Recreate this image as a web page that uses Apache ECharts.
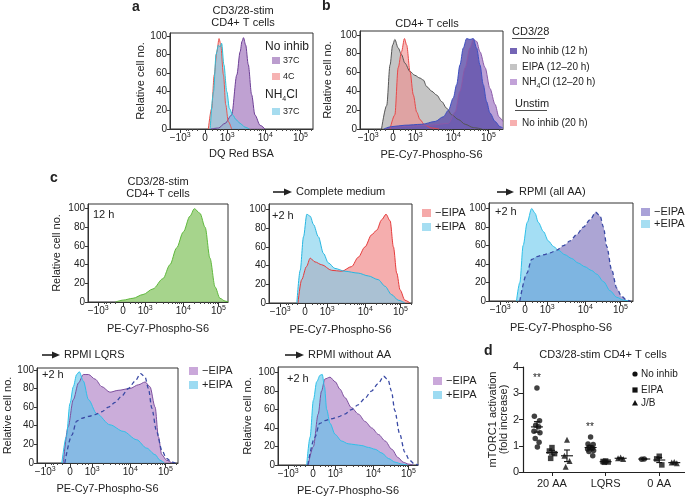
<!DOCTYPE html>
<html><head><meta charset="utf-8">
<script src="https://cdn.jsdelivr.net/npm/echarts@6/dist/echarts.min.js"></script>
<style>html,body{margin:0;padding:0;background:#fff}#c{width:685px;height:499px}</style>
</head><body><div id="c"></div>
<script>
// ---------- DATA (x in display units of the biexponential axis, y = relative cell no.) ----------
const X_TICK_VALUES = [-0.67, 0, 0.6, 1.63, 2.58];
const X_TICK_LABELS = ['−10{s|3}', '0', '10{s|3}', '10{s|4}', '10{s|5}'];
const Y_TICKS = [0, 20, 40, 60, 80, 100];

// panel a : DQ Red BSA
const a_noInhib37 = [[0.15,0],[0.36,1],[0.54,6],[0.72,15],[0.86,58],[0.95,83],[1.0,94],[1.04,98],[1.1,90],[1.17,69],[1.26,37],[1.35,15],[1.49,4],[1.62,0]];
const a_noInhib4 = [[0.09,0],[0.18,22],[0.25,58],[0.32,83],[0.38,97],[0.42,92],[0.5,58],[0.56,26],[0.63,8],[0.72,0]];
const a_nh4cl37 = [[0.14,0],[0.23,40],[0.3,80],[0.36,90],[0.41,88],[0.45,92],[0.51,69],[0.59,40],[0.66,22],[0.75,15],[0.84,10],[0.95,6],[1.08,2],[1.2,0]];

// panel b : PE-Cy7-Phospho-S6
const b_eipa = [[-0.31,0],[-0.17,25],[-0.08,68],[-0.01,89],[0.05,95],[0.14,86],[0.23,79],[0.32,70],[0.46,61],[0.59,57],[0.73,54],[0.82,52],[0.91,45],[1.05,40],[1.18,36],[1.32,29],[1.45,22],[1.59,15],[1.77,10],[1.95,5],[2.17,1.5],[2.4,0]];
const b_unstim = [[-0.08,0],[0.05,15],[0.14,65],[0.23,82],[0.31,96],[0.37,89],[0.46,61],[0.55,36],[0.64,18],[0.73,10],[0.86,4],[1.05,1],[1.25,0]];
const b_nh4cl = [[-0.2,0],[-0.05,2],[0.5,3],[1.0,4],[1.5,6],[1.68,18],[1.81,40],[1.95,65],[2.08,86],[2.17,95],[2.26,93],[2.35,82],[2.49,65],[2.62,43],[2.76,26],[2.86,13],[2.94,10],[2.97,8]];
const b_noInhib12 = [[-0.25,0],[-0.04,2.5],[0.32,4],[0.78,5],[1.14,8],[1.36,13],[1.5,20],[1.63,33],[1.72,47],[1.81,68],[1.9,86],[1.99,96],[2.08,95],[2.17,96],[2.26,86],[2.35,68],[2.44,47],[2.53,29],[2.62,17],[2.76,8],[2.89,2.5],[2.97,1]];

// panel c, 12 h
const c1_12h = [[-0.2,0],[0,2],[0.27,4],[0.54,8],[0.81,14],[1.08,25],[1.27,40],[1.45,58],[1.63,75],[1.81,92],[1.93,100],[2.08,95],[2.22,80],[2.35,47],[2.49,16],[2.62,4],[2.76,1],[2.85,0]];
// complete medium +2 h
const c2_minusEIPA = [[-0.19,0],[-0.09,25],[0.04,39],[0.14,48],[0.27,44],[0.45,41],[0.72,35],[0.99,34],[1.26,39],[1.44,49],[1.62,60],[1.8,73],[1.94,78],[2.07,89],[2.19,95],[2.3,88],[2.39,60],[2.48,32],[2.57,14],[2.7,3],[2.84,0]];
const c2_plusEIPA = [[-0.22,0],[-0.13,35],[-0.04,71],[0.05,95],[0.14,93],[0.23,84],[0.36,71],[0.5,53],[0.63,43],[0.81,37],[1.08,34],[1.44,32],[1.71,29],[1.98,25],[2.16,18],[2.34,9],[2.52,3],[2.7,0]];
// RPMI (all AA) +2 h
const c3_minusEIPA = [[-0.14,0],[0.05,30],[0.18,45],[0.32,48],[0.5,50],[0.68,52],[0.86,55],[1.04,60],[1.22,65],[1.4,72],[1.58,80],[1.76,88],[1.91,96],[2.03,92],[2.12,80],[2.21,59],[2.34,34],[2.48,14],[2.61,5],[2.75,1],[2.85,0]];
const c3_plusEIPA = [[-0.23,0],[-0.14,20],[-0.05,60],[0.06,85],[0.18,100],[0.27,95],[0.36,85],[0.5,75],[0.63,65],[0.77,59],[0.9,55],[1.08,50],[1.26,46],[1.44,41],[1.62,37],[1.8,33],[1.94,29],[2.12,21],[2.3,11],[2.48,4],[2.66,1],[2.8,0]];
// RPMI LQRS +2 h
const c4_minusEIPA = [[-0.18,0],[-0.05,39],[0.09,68],[0.23,86],[0.36,95],[0.5,95],[0.68,90],[0.86,82],[1.08,76],[1.3,78],[1.62,80],[1.85,84],[2.03,87],[2.16,82],[2.3,60],[2.39,28],[2.48,9],[2.61,3],[2.75,0]];
const c4_plusEIPA = [[-0.22,0],[-0.1,28],[0,64],[0.09,82],[0.18,95],[0.25,98],[0.36,88],[0.5,68],[0.72,53],[1.08,41],[1.44,34],[1.8,25],[2.07,16],[2.3,9],[2.43,3],[2.55,0]];
// RPMI without AA +2 h
const c5_minusEIPA = [[-0.13,0],[0.01,20],[0.14,55],[0.23,80],[0.32,93],[0.46,95],[0.6,90],[0.73,82],[0.86,73],[1.04,62],[1.23,55],[1.41,47],[1.59,40],[1.77,33],[1.95,26],[2.13,17],[2.3,8],[2.44,3],[2.58,1],[2.7,0]];
const c5_plusEIPA = [[-0.17,0],[-0.08,30],[0.01,70],[0.1,90],[0.19,97],[0.25,98],[0.31,85],[0.37,60],[0.46,45],[0.6,33],[0.77,26],[0.95,23],[1.14,22],[1.32,21],[1.5,19],[1.68,17],[1.86,13],[2.04,7],[2.22,3],[2.4,1],[2.55,0]];

// panel d : mTORC1 activation (fold increase)
const D_CATS = ['20 AA', 'LQRS', '0 AA'];
const d_noInhib = [[3.2,2.12,1.95,1.78,1.72,1.55,1.5,1.28,1.13,0.95],[1.33,1.07,1.05,0.95,0.9,0.88,0.82,0.78,0.62],[0.5,0.49]];
const d_eipa = [[0.93,0.8,0.7,0.52],[0.42,0.4,0.38,0.37],[0.6,0.5,0.27]];
const d_jb = [[1.23,0.62,0.42,0.2],[0.55,0.52,0.5],[0.38,0.36,0.33]];

// ---------- LAYOUT ----------
const FF = '"Liberation Sans", Arial, Helvetica, sans-serif';
const INK = '#222';
const PX_PER_UNIT = 37;
const PANELS = [
  {key:'a',  left:170, top:33,  w:143, h:96, zero:205, ymax:103, xname:'DQ Red BSA',        yname:true,  yGap:24, xGap:19},
  {key:'b',  left:360, top:31,  w:143, h:98, zero:393, ymax:104, xname:'PE-Cy7-Phospho-S6', yname:true,  yGap:27, xGap:20},
  {key:'c1', left:88,  top:204, w:140, h:98, zero:123, ymax:105, xname:'PE-Cy7-Phospho-S6', yname:true,  yGap:26, xGap:21},
  {key:'c2', left:269, top:204, w:143, h:99, zero:305, ymax:106, xname:'PE-Cy7-Phospho-S6', yname:false, yGap:26, xGap:21},
  {key:'c3', left:489, top:203, w:144, h:98, zero:525, ymax:106, xname:'PE-Cy7-Phospho-S6', yname:false, yGap:26, xGap:21},
  {key:'c4', left:37,  top:368, w:141, h:95, zero:70,  ymax:102, xname:'PE-Cy7-Phospho-S6', yname:true,  yGap:23, xGap:20},
  {key:'c5', left:278, top:367, w:140, h:98, zero:313, ymax:106, xname:'PE-Cy7-Phospho-S6', yname:true,  yGap:25, xGap:20}
];
// minor (log) tick positions inside each decade, in axis display units
const DECADES = [[0.6, 1.03], [1.63, 0.95], [2.58, 0.95]];
const X_MINOR = [];
DECADES.forEach(([u0, len]) => { for (let k = 2; k <= 9; k++) X_MINOR.push(u0 + Math.log10(k) * len); });
[-0.2, -0.35, -0.45, -0.52, 0.2, 0.33, 0.42, 0.49].forEach(v => X_MINOR.push(v));

const SUP_RICH = {s:{fontSize:7, lineHeight:8, verticalAlign:'top', fontFamily:FF, color:INK}};
function xLab(v){
  let best = 0, bd = 1e9;
  X_TICK_VALUES.forEach((t,i)=>{ const d = Math.abs(t-v); if(d<bd){bd=d;best=i;} });
  return X_TICK_LABELS[best];
}

const grids = [], xAxes = [], yAxes = [], series = [];
PANELS.forEach((p, gi) => {
  const xmin = (p.left-p.zero)/PX_PER_UNIT, xmax = (p.left+p.w-p.zero)/PX_PER_UNIT;
  grids.push({left:p.left, top:p.top, width:p.w, height:p.h, show:true, borderColor:'#333', borderWidth:1, backgroundColor:'rgba(0,0,0,0)'});
  xAxes.push({gridIndex:gi, type:'value', min:xmin, max:xmax,
    splitLine:{show:false},
    axisLine:{show:true, onZero:false, lineStyle:{color:'#333', width:1}},
    axisTick:{show:true, customValues:X_TICK_VALUES, length:4, lineStyle:{color:'#333'}},
    axisLabel:{show:true, customValues:X_TICK_VALUES, formatter:xLab, fontSize:10, lineHeight:13, color:INK, fontFamily:FF, margin:3, rich:SUP_RICH},
    name:p.xname, nameLocation:'middle', nameGap:p.xGap, nameTextStyle:{fontSize:11, color:INK, fontFamily:FF}});
  yAxes.push({gridIndex:gi, type:'value', min:0, max:p.ymax,
    splitLine:{show:false},
    axisLine:{show:true, onZero:false, lineStyle:{color:'#333', width:1}},
    axisTick:{show:true, customValues:Y_TICKS, length:3, lineStyle:{color:'#333'}},
    axisLabel:{show:true, customValues:Y_TICKS, fontSize:10, color:INK, fontFamily:FF, margin:3},
    name:p.yname ? 'Relative cell no.' : '', nameLocation:'middle', nameGap:p.yGap, nameTextStyle:{fontSize:11, color:INK, fontFamily:FF}});
});
// second x axes (same grids) carrying only the short minor ticks
PANELS.forEach((p, gi) => {
  xAxes.push({gridIndex:gi, type:'value', position:'bottom', min:(p.left-p.zero)/PX_PER_UNIT, max:(p.left+p.w-p.zero)/PX_PER_UNIT,
    splitLine:{show:false}, axisLine:{show:false, onZero:false},
    axisTick:{show:true, customValues:X_MINOR.filter(v => v > (p.left-p.zero)/PX_PER_UNIT && v < (p.left+p.w-p.zero)/PX_PER_UNIT), length:2, lineStyle:{color:'#444'}},
    axisLabel:{show:false}});
});

function hist(gi, data, fill, edge, extra){
  return Object.assign({type:'line', xAxisIndex:gi, yAxisIndex:gi, data:data, symbol:'none', showSymbol:false,
    smooth:0.3, smoothMonotone:'x', animation:false, silent:true,
    lineStyle:{color:edge, width:1}, areaStyle:{color:fill, opacity:1}}, extra||{});
}
function dashed(gi, data){
  return {type:'line', xAxisIndex:gi, yAxisIndex:gi, data:data, symbol:'none', showSymbol:false, smooth:0.3, smoothMonotone:'x',
    animation:false, silent:true, z:5, lineStyle:{color:'#3a4aa5', width:1.3, type:[4,3]}};
}
const PURPLE_A='rgba(170,130,195,0.75)', PINK='rgba(242,150,150,0.62)', CYAN='rgba(110,200,232,0.58)';
// a
series.push(hist(0, a_noInhib37, PURPLE_A, '#6d3f96'));
series.push(hist(0, a_noInhib4, PINK, '#e8544f'));
series.push(hist(0, a_nh4cl37, CYAN, '#2dbfd6'));
// b
series.push(hist(1, b_eipa, 'rgba(170,170,170,0.68)', '#555'));
series.push(hist(1, b_unstim, 'rgba(240,140,140,0.6)', '#e84848'));
series.push(hist(1, b_nh4cl, 'rgba(175,140,205,0.82)', '#8a5aa8'));
series.push(hist(1, b_noInhib12, 'rgba(95,80,170,0.82)', '#3c4fc0'));
// c1
series.push(hist(2, c1_12h, 'rgba(150,205,120,0.85)', '#5fb83d'));
// c2
series.push(hist(3, c2_minusEIPA, 'rgba(240,130,130,0.65)', '#e53a3a'));
series.push(hist(3, c2_plusEIPA, 'rgba(120,205,235,0.6)', '#27b6e0'));
// c3
series.push(hist(4, c3_minusEIPA, 'rgba(140,130,195,0.72)', 'rgba(0,0,0,0)', {lineStyle:{width:0}}));
series.push(hist(4, c3_plusEIPA, 'rgba(90,195,235,0.55)', '#2ec0e8'));
series.push(dashed(4, c3_minusEIPA));
// c4
series.push(hist(5, c4_minusEIPA, 'rgba(185,145,205,0.75)', '#7d4f9e'));
series.push(hist(5, c4_plusEIPA, 'rgba(90,195,235,0.6)', '#2ec0e8'));
series.push(dashed(5, c3_minusEIPA));
// c5
series.push(hist(6, c5_minusEIPA, 'rgba(185,145,205,0.75)', '#7d4f9e'));
series.push(hist(6, c5_plusEIPA, 'rgba(90,195,235,0.6)', '#2ec0e8'));
series.push(dashed(6, c3_minusEIPA));

// panel d axes
const DGI = 7, DXI = xAxes.length;
grids.push({left:523, top:367, width:162, height:105, show:false});
xAxes.push({gridIndex:DGI, type:'value', min:0.46, max:3.48, splitLine:{show:false},
  axisLine:{show:true, onZero:false, lineStyle:{color:'#222', width:1.2}},
  axisTick:{show:true, customValues:[1,2,3], length:4, lineStyle:{color:'#222'}},
  axisLabel:{show:true, customValues:[1,2,3], formatter:v=>D_CATS[Math.round(v)-1], fontSize:11, color:INK, fontFamily:FF, margin:6}});
yAxes.push({gridIndex:DGI, type:'value', min:0, max:4, interval:1, splitLine:{show:false},
  axisLine:{show:true, onZero:false, lineStyle:{color:'#222', width:1.2}},
  axisTick:{show:true, length:4, lineStyle:{color:'#222'}},
  axisLabel:{fontSize:11, color:INK, fontFamily:FF, margin:4},
  name:'mTORC1 activation\n(fold increase)', nameLocation:'middle', nameGap:7,
  nameTextStyle:{fontSize:11, lineHeight:11, color:INK, fontFamily:FF}});

const GROUP_OFFSET = {noInhib:-0.28, eipa:0, jb:0.28};
const JITTER = [0,-0.06,0.06,-0.03,0.04,-0.07,0.07,-0.04,0.05,0.01];
function scatterPts(groups, off){
  const out = [];
  groups.forEach((vals, ci) => vals.forEach((v, k) => out.push([ci+1+off+JITTER[k%JITTER.length]*0.8, v])));
  return out;
}
function stats(groups, off){
  return groups.map((vals, ci) => {
    const n = vals.length, m = vals.reduce((s,v)=>s+v,0)/n;
    const sd = Math.sqrt(vals.reduce((s,v)=>s+(v-m)*(v-m),0)/(n-1));
    const se = sd/Math.sqrt(n);
    return [ci+1+off, m, m-se, m+se];
  });
}
const SYM = {noInhib:['circle',5.5], eipa:['rect',5.5], jb:['triangle',6]};
[['noInhib', d_noInhib], ['eipa', d_eipa], ['jb', d_jb]].forEach(([k, g]) => {
  series.push({type:'custom', xAxisIndex:DXI, yAxisIndex:DGI, data:stats(g, GROUP_OFFSET[k]), animation:false, silent:true, z:4,
    renderItem:(params, api) => {
      const x = api.value(0), pm = api.coord([x, api.value(1)]), pl = api.coord([x, api.value(2)]), ph = api.coord([x, api.value(3)]);
      const st = {stroke:'#111', lineWidth:1.1};
      return {type:'group', children:[
        {type:'line', shape:{x1:pm[0]-6, y1:pm[1], x2:pm[0]+6, y2:pm[1]}, style:st},
        {type:'line', shape:{x1:pl[0], y1:pl[1], x2:ph[0], y2:ph[1]}, style:st},
        {type:'line', shape:{x1:pl[0]-3, y1:pl[1], x2:pl[0]+3, y2:pl[1]}, style:st},
        {type:'line', shape:{x1:ph[0]-3, y1:ph[1], x2:ph[0]+3, y2:ph[1]}, style:st}
      ]};
    }});
  series.push({type:'scatter', xAxisIndex:DXI, yAxisIndex:DGI, data:scatterPts(g, GROUP_OFFSET[k]), symbol:SYM[k][0], symbolSize:SYM[k][1],
    itemStyle:{color:'#111'}, animation:false, silent:true, z:3});
});

// ---------- annotations ----------
const G = [];
function T(x, y, text, size, opts){
  G.push({type:'text', x:x, y:y, silent:true, z:10, style:Object.assign({text:text, fill:INK, font:(opts&&opts.bold?'bold ':'')+size+'px '+FF,
    align:(opts&&opts.align)||'left', verticalAlign:'middle'}, (opts&&opts.style)||{})});
}
function R(x, y, w, h, fill){ G.push({type:'rect', silent:true, z:10, shape:{x:x, y:y, width:w, height:h}, style:{fill:fill}}); }
function L(x1, y1, x2, y2, w){ G.push({type:'line', silent:true, z:10, shape:{x1:x1, y1:y1, x2:x2, y2:y2}, style:{stroke:INK, lineWidth:w||1}}); }
function ARROW(x1, x2, y){
  L(x1, y, x2-6, y, 1.6);
  G.push({type:'polygon', silent:true, z:10, shape:{points:[[x2-8,y-3.5],[x2,y],[x2-8,y+3.5]]}, style:{fill:INK}});
}
const SUB_RICH = {sub:{fontSize:7, verticalAlign:'bottom', lineHeight:16, fontFamily:FF, fill:INK, color:INK}};

// letters
T(132, 7, 'a', 14, {bold:true});
T(322, 6, 'b', 14, {bold:true});
T(50, 178, 'c', 14, {bold:true});
T(484, 351, 'd', 14, {bold:true});
// titles
T(243, 11, 'CD3/28-stim', 11, {align:'center'});
T(243, 23, 'CD4+ T cells', 11, {align:'center'});
T(427, 24, 'CD4+ T cells', 11, {align:'center'});
T(158, 182, 'CD3/28-stim', 11, {align:'center'});
T(158, 194, 'CD4+ T cells', 11, {align:'center'});
T(603, 355, 'CD3/28-stim CD4+ T cells', 11, {align:'center'});
// legend a
T(265, 47, 'No inhib', 12);
R(272, 57, 8, 7, '#bb9dce'); T(283, 60.5, '37C', 9);
R(272, 73, 8, 7, '#f6b3b3'); T(283, 76.5, '4C', 9);
T(265, 95, 'NH{sub|4}Cl', 12, {style:{rich:SUB_RICH}});
R(272, 108, 8, 7, '#a6dcef'); T(283, 111.5, '37C', 9);
// legend b
T(512, 32, 'CD3/28', 11); L(512, 38.5, 545, 38.5, 0.8);
R(510, 48, 7, 6, '#7465b5'); T(522, 51, 'No inhib (12 h)', 10);
R(510, 64, 7, 6, '#c4c4c4'); T(522, 67, 'EIPA (12–20 h)', 10);
R(510, 79, 7, 6, '#c2a2d8'); T(522, 82, 'NH{sub|4}Cl (12–20 h)', 10, {style:{rich:SUB_RICH}});
T(515, 104, 'Unstim', 11); L(515, 110.5, 547, 110.5, 0.8);
R(510, 120, 7, 6, '#f7b0b0'); T(522, 123, 'No inhib (20 h)', 10);
// panel c texts
T(93, 215, '12 h', 11);
ARROW(273, 292, 192); T(296, 192, 'Complete medium', 11);
ARROW(497, 514, 192); T(519, 192, 'RPMI (all AA)', 11);
ARROW(42, 60, 355);   T(64, 355, 'RPMI LQRS', 11);
ARROW(285, 304, 355); T(308, 355, 'RPMI without AA', 11);
T(272, 216, '+2 h', 11); T(495, 212, '+2 h', 11); T(42, 375, '+2 h', 11); T(287, 379, '+2 h', 11);
// c legends
R(422, 209, 9, 8, '#f5a9a9'); T(435, 213, '−EIPA', 11);
R(422, 223, 9, 8, '#a6def2'); T(435, 227, '+EIPA', 11);
R(641, 208, 9, 8, '#aaa2d8'); T(654, 212, '−EIPA', 11);
R(641, 220, 9, 8, '#a6def2'); T(654, 224, '+EIPA', 11);
R(189, 367, 9, 8, '#caa8da'); T(202, 371, '−EIPA', 11);
R(189, 381, 9, 8, '#9ddbf2'); T(202, 385, '+EIPA', 11);
R(433, 377, 9, 8, '#caa8da'); T(446, 381, '−EIPA', 11);
R(433, 391, 9, 8, '#9ddbf2'); T(446, 395, '+EIPA', 11);
// d legend
G.push({type:'circle', silent:true, z:10, shape:{cx:635, cy:374, r:2.6}, style:{fill:'#111'}}); T(641, 374, 'No inhib', 10);
R(632.4, 387.4, 5.2, 5.2, '#111'); T(641, 390, 'EIPA', 10);
G.push({type:'polygon', silent:true, z:10, shape:{points:[[635,400],[638,405.5],[632,405.5]]}, style:{fill:'#111'}}); T(641, 403, 'J/B', 10);
T(537, 378, '**', 10, {align:'center'});
T(590, 427, '**', 10, {align:'center'});

const chart = echarts.init(document.getElementById('c'), null, {renderer:'canvas'});
chart.setOption({backgroundColor:'#fff', animation:false, grid:grids, xAxis:xAxes, yAxis:yAxes, series:series, graphic:G});
</script></body></html>
